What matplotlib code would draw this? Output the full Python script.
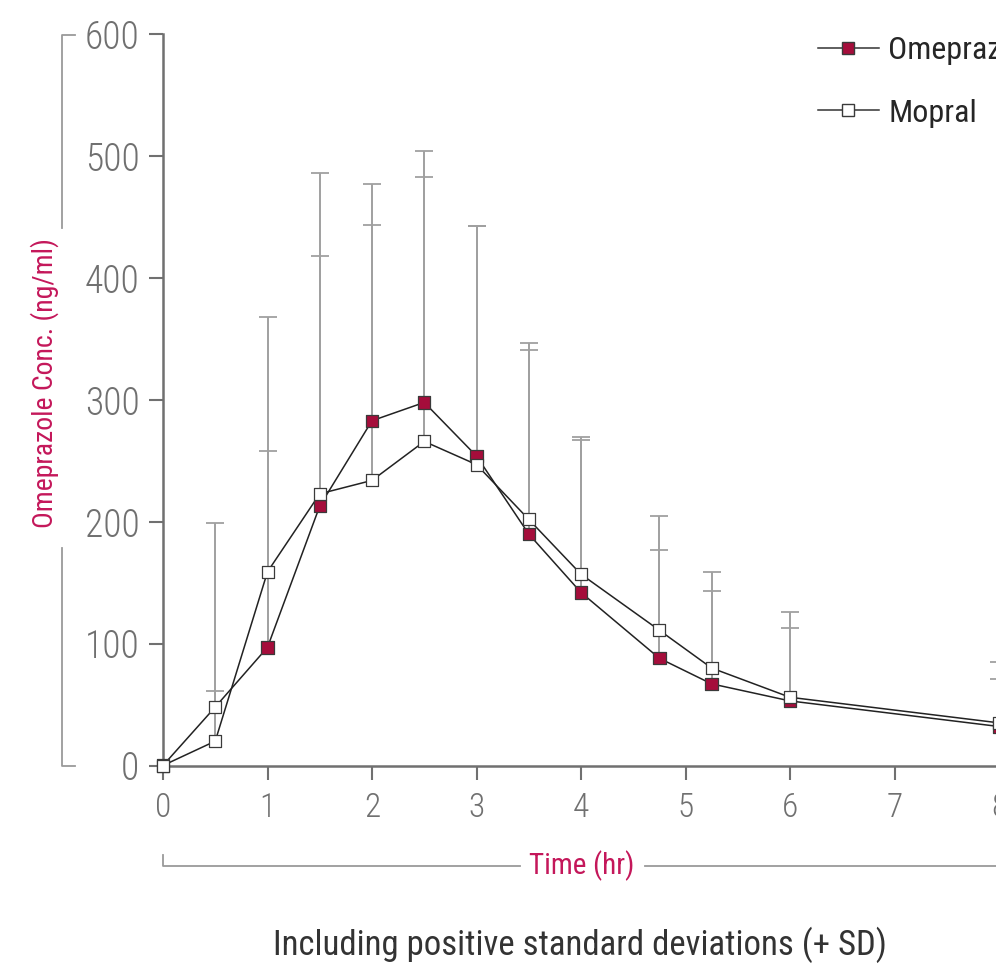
import matplotlib
matplotlib.use("Agg")
import matplotlib.pyplot as plt
import matplotlib.font_manager as fm
from matplotlib.lines import Line2D
import numpy as np

# ---------------- data ----------------
time_hr = [0, 0.5, 1, 1.5, 2, 2.5, 3, 3.5, 4, 4.75, 5.25, 6, 8]
omeprazole_mean = [0, 48, 97, 213, 283, 298, 254, 190, 142, 88, 67, 53, 32]
mopral_mean = [0, 20, 159, 223, 234, 266, 247, 202, 157, 111, 80, 56, 35]
omeprazole_sd = [0, 151, 161, 273, 194, 206, 189, 151, 125, 89, 76, 60, 39]
mopral_sd = [0, 41, 209, 195, 210, 217, 196, 145, 113, 94, 79, 70, 50]
x_ticks = [0, 1, 2, 3, 4, 5, 6, 7, 8]
y_ticks = [0, 100, 200, 300, 400, 500, 600]
series_names = ["Omeprazole", "Mopral"]

# ---------------- fonts ----------------
avail = {f.name for f in fm.fontManager.ttflist}
cond_dejavu = any(f.name == "DejaVu Sans" and f.stretch == "condensed" for f in fm.fontManager.ttflist)
font = None
for c in ["Roboto Condensed", "Liberation Sans Narrow", "Open Sans Condensed"]:
    if c in avail:
        font = c
        break
stretch = "normal"
if font is None:
    font = "DejaVu Sans"
    stretch = "condensed" if cond_dejavu else "normal"
plt.rcParams["font.family"] = [font, "DejaVu Sans"]
plt.rcParams["font.stretch"] = stretch

RED_MARK = "#a50d3b"
RED_TEXT = "#c4175a"
GRAY_TXT = "#707070"
SPINE = "#707070"
EBAR = "#a0a0a0"
DECO = "#9a9a9a"

W, H = 996, 967
fig = plt.figure(figsize=(W / 100, H / 100), dpi=100)
ax = fig.add_axes([163 / W, (H - 765.5) / H, 836 / W, 731 / H])
ax.set_xlim(0, 8)
ax.set_ylim(0, 600)

t = np.array(time_hr, dtype=float)
om = np.array(omeprazole_mean, dtype=float)
mo = np.array(mopral_mean, dtype=float)
om_sd = np.array(omeprazole_sd, dtype=float)
mo_sd = np.array(mopral_sd, dtype=float)

# error bars (positive SD only), skip t=0
for m, sd in [(om, om_sd), (mo, mo_sd)]:
    ax.vlines(t[1:], m[1:], m[1:] + sd[1:], colors=EBAR, linewidth=1.4, zorder=1,
              clip_on=False)
    ax.plot(t[1:], m[1:] + sd[1:], linestyle="none", marker="_", markersize=13,
            markeredgewidth=1.3, color=EBAR, zorder=1, clip_on=False)

# lines
ax.plot(t, mo, color="#222222", lw=1.1, zorder=2, clip_on=False)
ax.plot(t, om, color="#222222", lw=1.1, zorder=2, clip_on=False)

# markers
om_face = [RED_MARK] * len(t)
om_face[1] = "white"
ax.scatter(t, om, marker="s", s=80, c=om_face, edgecolors="#3a3a3a",
           linewidths=0.9, zorder=3, clip_on=False)
ax.scatter(t, mo, marker="s", s=80, c="white", edgecolors="#3a3a3a",
           linewidths=0.9, zorder=4, clip_on=False)

# spines / ticks
for s in ["top", "right"]:
    ax.spines[s].set_visible(False)
for s in ["left", "bottom"]:
    ax.spines[s].set_color(SPINE)
    ax.spines[s].set_linewidth(1.8)
ax.set_xticks(x_ticks)
ax.set_yticks(y_ticks)
ax.tick_params(axis="both", direction="out", length=10, width=1.5, color=SPINE,
               labelcolor=GRAY_TXT)
ax.tick_params(axis="y", labelsize=27, pad=7)
ax.tick_params(axis="x", labelsize=24, pad=9)
for lab in ax.get_xticklabels() + ax.get_yticklabels():
    lab.set_fontweight("light")

# y label with bracket
fig.text(45 / W, 1 - 383 / H, "Omeprazole Conc. (ng/ml)", rotation=90,
         ha="center", va="center", color=RED_TEXT, fontsize=20)
bx = (62 - 163) / 836
hx = (75 - 163) / 836
ytop_end = (765.5 - 228) / 731
ybot_start = (765.5 - 548) / 731
for xs, ys in [([hx, bx, bx], [1.0, 1.0, ytop_end]),
               ([bx, bx, hx], [ybot_start, 0.0, 0.0])]:
    ax.add_line(Line2D(xs, ys, transform=ax.transAxes, color=DECO, lw=1.3, clip_on=False))

# x label with bracket
by = (765.5 - 866) / 731
hy = (765.5 - 855) / 731
ax.add_line(Line2D([0, 0, (520 - 163) / 836], [hy, by, by], transform=ax.transAxes,
                   color=DECO, lw=1.3, clip_on=False))
ax.add_line(Line2D([(645 - 163) / 836, 1.05], [by, by], transform=ax.transAxes,
                   color=DECO, lw=1.3, clip_on=False))
ax.text((582 - 163) / 836, by, "Time (hr)", transform=ax.transAxes, ha="center",
        va="center", color=RED_TEXT, fontsize=21)

# legend
handles = [
    Line2D([], [], color="#333333", lw=1.1, marker="s", markersize=8.5,
           markerfacecolor=RED_MARK, markeredgecolor="#3a3a3a"),
    Line2D([], [], color="#333333", lw=1.1, marker="s", markersize=8.5,
           markerfacecolor="white", markeredgecolor="#3a3a3a"),
]
leg = fig.legend(handles, series_names, loc="upper left",
                 bbox_to_anchor=(818 / W, 1 - 36 / H), frameon=False,
                 fontsize=23, handlelength=1.9, handletextpad=0.3,
                 labelspacing=1.05, borderpad=0, borderaxespad=0)
for txt in leg.get_texts():
    txt.set_color("#262626")

# bottom note
fig.text(580 / W, 1 - 945 / H, "Including positive standard deviations (+ SD)",
         ha="center", va="center", color="#333333", fontsize=25)

fig.savefig("out.png", dpi=100)
